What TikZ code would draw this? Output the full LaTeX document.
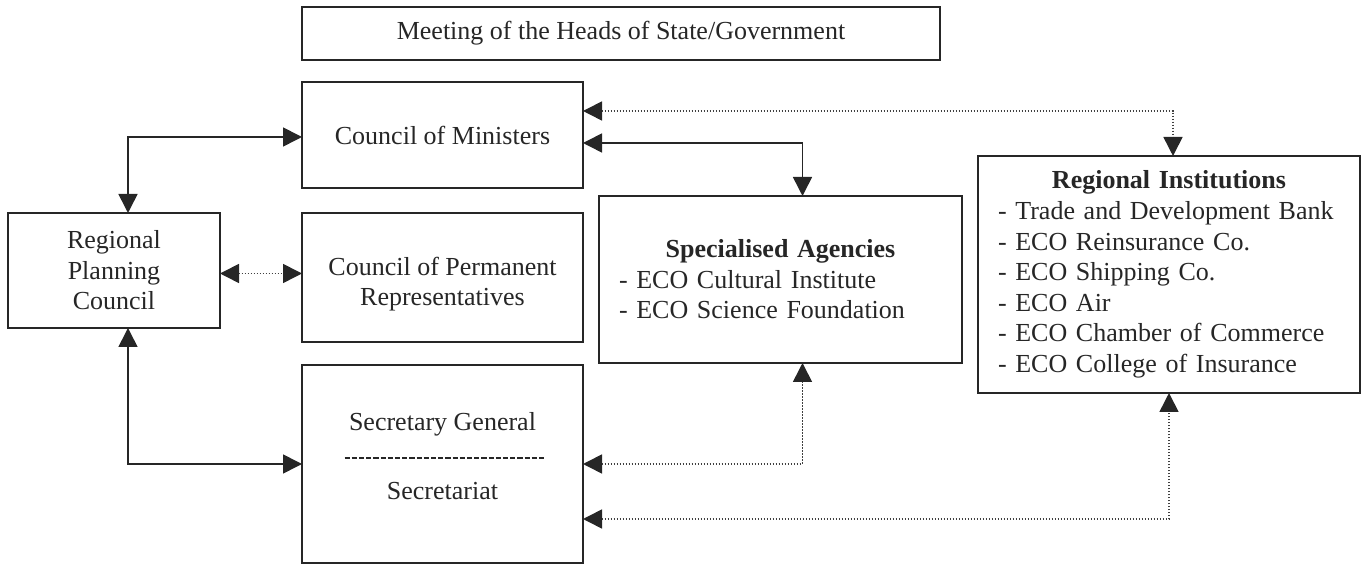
\documentclass[tikz,border=0pt]{standalone}
\usepackage{fontspec}
\setmainfont{Liberation Serif}
\usetikzlibrary{arrows.meta,positioning}

\begin{document}
\begin{tikzpicture}[
  font=\fontsize{13}{15.3}\selectfont, node distance=12pt,
  box/.style={draw=black!85, line width=1pt, inner sep=0pt, outer sep=0pt, align=center, text=black!85},
  lst/.style={box, align=left, inner xsep=10pt},
  tri/.tip={Triangle[length=9.5pt,width=9.5pt,color=black!85]},
  arr/.style={tri-tri, draw=black!85, line width=0.8pt},
  dot/.style={arr, draw=black!75, dash pattern=on 0.8pt off 0.7pt},
  sepline/.style={draw=black!85, line width=0.9pt, dash pattern=on 2.6pt off 1pt}]
  \useasboundingbox (0,0) rectangle (682pt,-282.5pt);
  % central column
  \node[box, minimum width=140.5pt, minimum height=53pt] (com) at (221.25pt,-67.5pt) {Council of Ministers};
  \node[box, minimum width=319pt, minimum height=26.5pt, above right=11pt and 0pt of com.north west] (meet) {Meeting of the Heads of State/Government};
  \node[box, minimum width=140.5pt, minimum height=64.5pt, text height=31pt, below=12.5pt of com] (cpr) {Council of Permanent\\ Representatives};
  \node[box, minimum width=140.5pt, minimum height=99pt, below=11.5pt of cpr] (sec) {};
  \node[text=black!85] (sg) at ([yshift=20pt]sec.center) {Secretary General};
  \node[text=black!85] (sct) at ([yshift=-13.5pt]sec.center) {Secretariat};
  \draw[sepline] ([xshift=-49pt,yshift=3pt]sec.center) -- ([xshift=51pt,yshift=3pt]sec.center);
  % left and right side
  \node[box, minimum width=106pt, minimum height=57.5pt, below left=0pt and 41pt of cpr.north west] (rpc) {Regional\\ Planning\\ Council};
  \node[lst, text width=161.5pt, minimum height=83.5pt, below right=4pt and 8pt of com.south east] (spec)
    {\hfill\textbf{Specialised Agencies}\hfill\null\\
     - ECO Cultural Institute\\
     - ECO Science Foundation};
  \node[lst, text width=171pt, minimum height=118.5pt, right=8pt of spec, yshift=2.5pt] (ri)
    {\hfill\textbf{Regional Institutions}\hfill\null\\
     - Trade and Development Bank\\
     - ECO Reinsurance Co.\\
     - ECO Shipping Co.\\
     - ECO Air\\
     - ECO Chamber of Commerce\\
     - ECO College of Insurance};
  % links
  \draw[arr] ([xshift=7pt]rpc.north) |- ([yshift=-1pt]com.west);
  \draw[arr] ([xshift=7pt]rpc.south) |- (sec.west);
  \draw[dot] ([yshift=-1.5pt]rpc.east) -- ([yshift=-1.5pt]rpc.east -| cpr.west);
  \draw[dot] ([yshift=12pt]com.east) -| ([xshift=2pt]ri.north);
  \draw[arr] ([yshift=-4pt]com.east) -| ([xshift=11pt]spec.north);
  \draw[dot] (sec.east) -| ([xshift=11pt]spec.south);
  \draw[dot] ([yshift=-27.5pt]sec.east) -| (ri.south);
\end{tikzpicture}
\end{document}
